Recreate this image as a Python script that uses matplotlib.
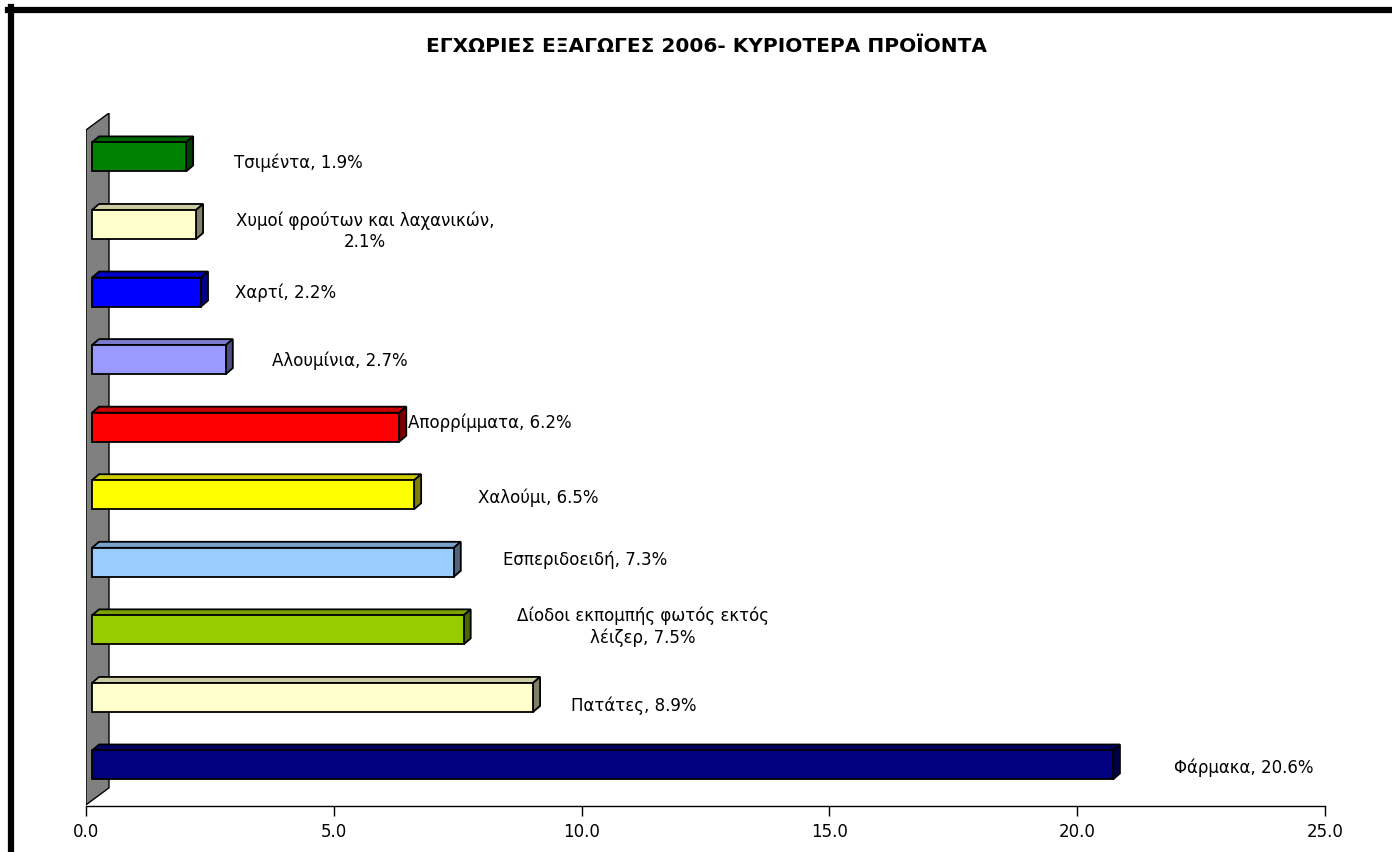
import matplotlib
matplotlib.use('Agg')
import matplotlib.pyplot as plt
from matplotlib.patches import Polygon
from matplotlib.lines import Line2D
from matplotlib.colors import to_rgb

plt.rcParams['font.family'] = ['DejaVu Sans']

# data, bottom bar first
products = ['Φάρμακα', 'Πατάτες', 'Δίοδοι εκπομπής φωτός εκτός\nλέιζερ', 'Εσπεριδοειδή',
            'Χαλούμι', 'Απορρίμματα', 'Αλουμίνια', 'Χαρτί',
            'Χυμοί φρούτων και λαχανικών,\n', 'Τσιμέντα']
shares = [20.6, 8.9, 7.5, 7.3, 6.5, 6.2, 2.7, 2.2, 2.1, 1.9]
colors = ['#000080', '#FFFFCC', '#99CC00', '#99CCFF', '#FFFF00',
          '#FF0000', '#9999FF', '#0000FF', '#FFFFCC', '#008000']
ticks = [0, 5, 10, 15, 20, 25]
title = 'ΕΓΧΩΡΙΕΣ ΕΞΑΓΩΓΕΣ 2006- ΚΥΡΙΟΤΕΡΑ ΠΡΟΪΟΝΤΑ'

# where the data labels sit (x in data units, y shift)
label_x = [23.37, 11.06, 11.24, 10.07, 9.12, 8.15, 5.13, 4.02, 5.63, 4.28]
label_dy = [-0.04, -0.12, 0.04, 0.03, -0.04, 0.07, -0.01, -0.01, -0.10, -0.09]

W, H = 1392, 852
fig = plt.figure(figsize=(W / 100, H / 100), dpi=100)
ax = fig.add_axes([86 / W, (H - 806) / H, 1239 / W, (806 - 113) / H])
ax.set_xlim(0, 25)
ax.set_ylim(-0.607, 9.65)

pxx = 25 / 1239.0     # data units per pixel (x)
pxy = 1 / 67.56        # data units per pixel (y)

# back wall
wall = Polygon([(0, -0.59), (23 * pxx, -0.59 + 17 * pxy), (23 * pxx, 9.65), (0, 9.65 - 17 * pxy)],
               closed=True, facecolor='#808080', edgecolor='black', lw=1, zorder=1)
ax.add_patch(wall)

off = 6 * pxx
h = 29 * pxy
dx, dy = 7 * pxx, 6 * pxy
ypos = list(range(len(shares)))
ax.barh(ypos, shares, height=h, left=off, color=colors, edgecolor='black', lw=1.3, zorder=3)
for y, v, c in zip(ypos, shares, colors):
    r, g, b = to_rgb(c)
    x0, x1 = off, off + v
    y0, y1 = y - h / 2, y + h / 2
    top = Polygon([(x0, y1), (x0 + dx, y1 + dy), (x1 + dx, y1 + dy), (x1, y1)],
                  facecolor=(r * 0.8, g * 0.8, b * 0.8), edgecolor='black', lw=1.3, zorder=2)
    side = Polygon([(x1, y0), (x1 + dx, y0 + dy), (x1 + dx, y1 + dy), (x1, y1)],
                   facecolor=(r * 0.5, g * 0.5, b * 0.5), edgecolor='black', lw=1.3, zorder=2)
    ax.add_patch(top)
    ax.add_patch(side)

for y, name, v, lx, ldy in zip(ypos, products, shares, label_x, label_dy):
    sep = '' if name.endswith('\n') else ', '
    ax.text(lx, y + ldy, f'{name}{sep}{v}%', ha='center', va='center',
            multialignment='center', fontsize=12, linespacing=1.25, zorder=5)

ax.set_xticks(ticks)
ax.set_xticklabels([f'{t:.1f}' for t in ticks])
ax.tick_params(axis='x', direction='out', length=7.5, width=1, labelsize=12, pad=5)
ax.set_yticks([])
for s in ['left', 'top', 'right']:
    ax.spines[s].set_visible(False)
ax.spines['bottom'].set_linewidth(1)
ax.patch.set_visible(False)

fig.text(707 / W, 1 - 47 / H, title, ha='center', va='center', fontsize=14.5, fontweight='bold')

# outer chart frame (left and top edges visible)
fig.add_artist(Line2D([10.5 / W, 10.5 / W], [0, 1 - 7 / H], color='black', lw=4.5))
fig.add_artist(Line2D([8 / W, 1], [1 - 10 / H, 1 - 10 / H], color='black', lw=4.5))

fig.savefig('out.png', dpi=100)
